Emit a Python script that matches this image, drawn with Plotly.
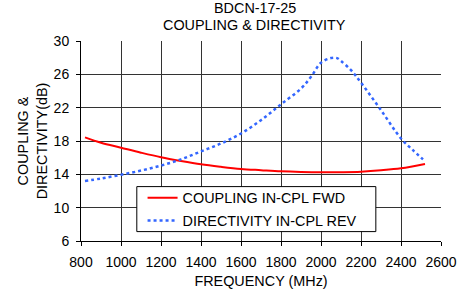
import plotly.graph_objects as go

cpl_freq = [820, 900, 1000, 1100, 1200, 1300, 1400, 1500, 1600, 1700, 1800, 1900, 2000, 2100, 2200, 2300, 2400, 2520]
cpl_val = [18.44, 17.8, 17.2, 16.6, 16.05, 15.6, 15.2, 14.9, 14.65, 14.5, 14.36, 14.28, 14.24, 14.26, 14.32, 14.48, 14.72, 15.24]

dir_freq = [820, 900, 1000, 1100, 1200, 1300, 1400, 1500, 1600, 1700, 1800, 1900, 1950, 2000, 2050, 2080, 2100, 2150, 2200, 2300, 2400, 2460, 2510]
dir_val = [13.2, 13.5, 13.95, 14.45, 15.05, 15.8, 16.75, 17.7, 18.9, 20.5, 22.4, 24.3, 25.7, 27.4, 27.95, 27.95, 27.6, 26.5, 25.0, 21.7, 18.3, 16.9, 15.8]

x_ticks = [800, 1000, 1200, 1400, 1600, 1800, 2000, 2200, 2400, 2600]
y_ticks = [6, 10, 14, 18, 22, 26, 30]

title_lines = ["BDCN-17-25", "COUPLING & DIRECTIVITY"]

font_family = "Liberation Sans, Arial, sans-serif"
TXT = 14.4

fig = go.Figure()
fig.add_trace(go.Scatter(x=cpl_freq, y=cpl_val, mode="lines", name="COUPLING IN-CPL FWD",
                         legendgroup="a",
                         line=dict(color="#FF0000", width=2, shape="spline")))
fig.add_trace(go.Scatter(x=dir_freq, y=dir_val, mode="lines", name="DIRECTIVITY IN-CPL REV",
                         legendgroup="b",
                         line=dict(color="#3366FF", width=2.5, dash="dot", shape="spline")))

# legend frame
fig.add_shape(type="rect", xref="paper", yref="paper", x0=0.155, x1=0.819, y0=0.047, y1=0.272,
              line=dict(color="black", width=1), fillcolor="white", layer="above")

# two-line chart title
for txt, ypos in zip(title_lines, [1.1635, 1.0785]):
    fig.add_annotation(text=txt, xref="paper", yref="paper", x=0.4833, y=ypos,
                       xanchor="center", yanchor="middle", showarrow=False,
                       font=dict(size=TXT, color="black"))

fig.update_layout(
    width=471, height=289,
    margin=dict(l=81, r=30, t=41, b=48),
    paper_bgcolor="white", plot_bgcolor="white",
    font=dict(family=font_family, size=TXT, color="black"),
    showlegend=True,
    legend=dict(x=0.171, y=0.296, xanchor="left", yanchor="top",
                borderwidth=0, bgcolor="rgba(0,0,0,0)",
                font=dict(size=TXT), tracegroupgap=1),
    xaxis=dict(range=[800, 2600], tickvals=x_ticks, ticks="outside", ticklen=4,
               tickcolor="black", showgrid=True, gridcolor="#333333", gridwidth=1,
               showline=True, linecolor="black", linewidth=1, mirror=False,
               zeroline=False, tickfont=dict(size=14), ticklabelstandoff=4,
               automargin=False,
               title=dict(text="FREQUENCY (MHz)", font=dict(size=TXT), standoff=8)),
    yaxis=dict(range=[6, 30], tickvals=y_ticks, ticks="outside", ticklen=4,
               tickcolor="black", showgrid=True, gridcolor="#333333", gridwidth=1,
               showline=True, linecolor="black", linewidth=1,
               zeroline=False, tickfont=dict(size=14), ticklabelstandoff=4,
               automargin=False,
               title=dict(text="COUPLING &<br>DIRECTIVITY(dB)", font=dict(size=TXT), standoff=2)),
)

fig.write_html("out.html", config={"displayModeBar": False},
               post_script="document.body.style.margin='0';")
